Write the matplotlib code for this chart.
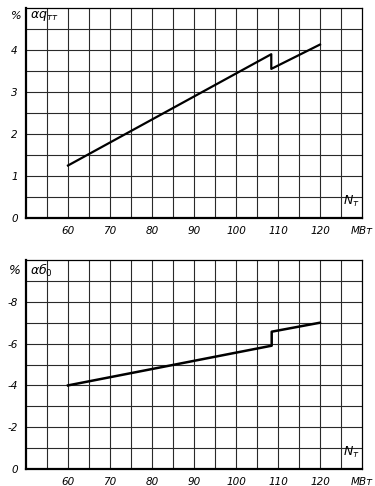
import numpy as np
import matplotlib
matplotlib.use('Agg')
import matplotlib.pyplot as plt

plt.rcParams['axes.unicode_minus'] = False
plt.rcParams['font.family'] = ['DejaVu Sans']

# top chart: heat rate change
n_top = [60, 108.4, 108.4, 120]
dq_top = [1.25, 3.9, 3.55, 4.13]

# bottom chart: fuel rate change
n_bot = [60, 108.5, 108.5, 120]
db_bot = [-4.0, -5.9, -6.57, -7.0]

x_ticks = [60, 70, 80, 90, 100, 110, 120]
top_yticks = [0, 1, 2, 3, 4]
bot_yticks = [0, -2, -4, -6, -8]

W, H = 375, 486
fig = plt.figure(figsize=(W / 100, H / 100), dpi=100)


def setup(ax, y_lo, y_hi, y_step, yticks):
    ax.set_xlim(50, 130)
    ax.set_ylim(y_lo, y_hi)
    for x in np.arange(55, 130, 5):
        ax.axvline(x, color='#2a2a2a', lw=0.8, zorder=1)
    sign = 1 if y_hi > y_lo else -1
    for y in np.arange(y_lo + sign * y_step, y_hi, sign * y_step):
        ax.axhline(y, color='#2a2a2a', lw=0.8, zorder=1)
    ax.set_xticks(x_ticks + [130])
    ax.set_xticklabels([str(t) for t in x_ticks] + ['МВт'], style='italic', fontsize=7.5)
    ax.set_yticks(yticks)
    ax.set_yticklabels([str(t) for t in yticks], style='italic', fontsize=7.5)
    ax.tick_params(length=0, pad=6)
    for s in ['left', 'bottom']:
        ax.spines[s].set_linewidth(1.6)
    for s in ['top', 'right']:
        ax.spines[s].set_linewidth(0.9)
    ax.text(127.5, (y_lo + (y_hi - y_lo) * 0.045), r'$N_{т}$',
            fontsize=9, ha='center', va='bottom')


ax1 = fig.add_axes([26 / W, 1 - 218 / H, 336 / W, 210 / H])
setup(ax1, 0, 5, 0.5, top_yticks)
ax1.plot(n_top, dq_top, color='black', lw=1.6, zorder=3)
fig.text(11 / W, 1 - 16 / H, '%', fontsize=8, style='italic', ha='left', va='center')
ax1.text(51, 4.82, r'$\alpha q_{тт}$', fontsize=9, ha='left', va='center')

ax2 = fig.add_axes([26 / W, 1 - 469 / H, 336 / W, 209 / H])
setup(ax2, 0, -10, 1, bot_yticks)
ax2.plot(n_bot, db_bot, color='black', lw=1.8, zorder=3)
fig.text(9 / W, 1 - 271 / H, '%', fontsize=9, style='italic', ha='left', va='center')
ax2.text(51, -9.5, r'$\alpha б_0$', fontsize=9, ha='left', va='center')

fig.savefig('out.png', dpi=100, facecolor='white')
